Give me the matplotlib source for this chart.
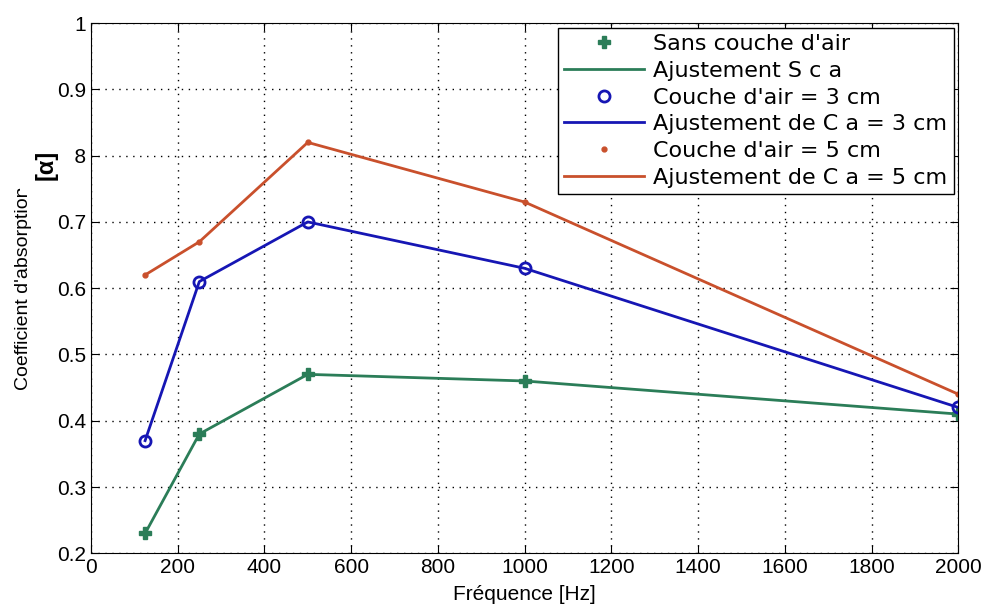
import numpy as np
import matplotlib.pyplot as plt

plt.rcParams['font.family'] = ['Liberation Sans', 'DejaVu Sans']

# frequencies (Hz) and absorption coefficients
freq = [125, 250, 500, 1000, 2000]
sans_couche = [0.23, 0.38, 0.47, 0.46, 0.41]
couche_3cm = [0.37, 0.61, 0.70, 0.63, 0.42]
couche_5cm = [0.62, 0.67, 0.82, 0.73, 0.44]

green = '#2b7d58'
blue = '#1616b4'
red = '#c9502c'

fig = plt.figure(figsize=(9.88, 6.08), dpi=100)
ax = fig.add_axes([0.092, 0.09, 0.878, 0.872])

ax.plot(freq, sans_couche, ls='none', marker='P', ms=9, color=green, label="Sans couche d'air")
ax.plot(freq, sans_couche, color=green, lw=2, label='Ajustement S c a')
ax.plot(freq, couche_3cm, ls='none', marker='o', ms=8, mfc='none', mew=2, color=blue, label="Couche d'air = 3 cm")
ax.plot(freq, couche_3cm, color=blue, lw=2, label='Ajustement de C a = 3 cm')
ax.plot(freq, couche_5cm, ls='none', marker='.', ms=7, color=red, label="Couche d'air = 5 cm")
ax.plot(freq, couche_5cm, color=red, lw=2, label='Ajustement de C a = 5 cm')

ax.set_xlim(0, 2000)
ax.set_ylim(0.2, 1)
ax.set_xticks(np.arange(0, 2001, 200))
ax.set_yticks(np.arange(0.2, 1.01, 0.1))
ax.set_yticklabels(['0.2', '0.3', '0.4', '0.5', '0.6', '0.7', '0.8', '0.9', '1'])
ax.tick_params(direction='in', top=True, right=True, labelsize=15, length=6)
ax.grid(True, color='black', ls=(0, (1, 4)), lw=1)

ax.set_xlabel('Fréquence [Hz]', fontsize=15, labelpad=6)
ax.set_ylabel("Coefficient d'absorption", fontsize=14, labelpad=18)

# white label box pasted over the axis label
fig.text(0.047, 0.729, '[α]', rotation=90, fontsize=17, fontweight='bold',
         ha='center', va='center',
         bbox=dict(facecolor='white', edgecolor='none', boxstyle='square,pad=0.65'))

leg = ax.legend(loc='upper right', prop={'family': 'DejaVu Sans', 'size': 16},
                fancybox=False, edgecolor='black', framealpha=1, borderaxespad=0.2,
                handlelength=3.6, handletextpad=0.4, labelspacing=0.3, borderpad=0.3)
leg.get_frame().set_linewidth(1)

fig.savefig('out.png', dpi=100)
